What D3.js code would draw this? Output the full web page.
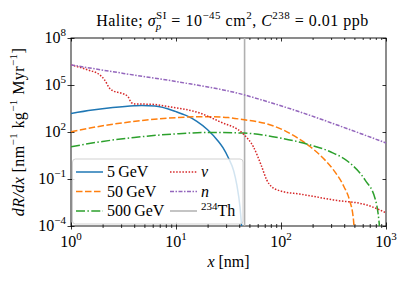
<!DOCTYPE html>
<html>
<head>
<script src="https://cdnjs.cloudflare.com/ajax/libs/d3/7.8.5/d3.min.js"></script>
<style>
    body { margin: 0; background: #fff; }
    svg text { font-family: "Liberation Serif", "DejaVu Serif", serif; fill: #000; }
    .domain { stroke: #000; stroke-width: 0.9px; }
    .tick line { stroke: #000; stroke-width: 0.8px; }
</style>
</head>
<body>
<svg id="chart"></svg>
<script>
    const width = 407, height = 281;
    const margin = {top: 38, right: 21, bottom: 55, left: 71};

    // 5 GeV
    const x5 = [1, 1.6, 2.5, 4, 4.7, 6.3, 10, 12.6, 15.8, 20, 25, 28, 31.6, 35.5, 38, 40.7, 42.7];
    const y5 = [1.5e3, 2.5e3, 3.6e3, 4.7e3, 4.9e3, 4.6e3, 2.0e3, 1.1e3, 480, 140, 28, 10, 2.2, 0.32, 0.04, 1.6e-3, 3e-5];
    // 50 GeV
    const x50 = [1, 2.24, 5, 10, 20, 31.6, 44.7, 70.8, 105, 141, 190, 251, 316, 398, 447, 490, 501];
    const y50 = [105, 280, 560, 830, 950, 830, 600, 355, 135, 45, 11.5, 2.2, 0.38, 0.032, 0.005, 2.5e-4, 3e-5];
    // 500 GeV
    const x500 = [1, 2, 4, 10, 20, 44.7, 97.7, 190, 295, 457, 631, 794, 841, 881];
    const y500 = [11.5, 25, 45, 76, 93, 85, 42, 14.8, 5.5, 1.0, 0.087, 4.6e-3, 6.3e-4, 3e-5];
    // neutrinos
    const xNu = [1, 1.45, 1.88, 2.09, 2.33, 2.51, 3.02, 3.49, 3.76, 4.04, 5.82, 8.39, 16.9, 26.2, 44.2, 54.5, 65.5, 73.1, 81.5, 105, 151, 315, 655, 1000];
    const yNu = [1.9e6, 9.1e5, 4.4e5, 2.1e5, 6.2e4, 4.2e4, 3e4, 1.8e4, 7.4e3, 6.2e3, 5.9e3, 4.2e3, 1.6e3, 4.5e2, 70, 11.5, 0.62, 0.087, 0.032, 0.0155, 0.011, 4.6e-3, 2.2e-3, 7e-4];
    // neutrons
    const xN = [1, 3.16, 10.4, 45.1, 63.1, 152, 365, 1000];
    const yN = [1.9e6, 5.5e5, 1.6e5, 2.3e4, 1.2e4, 1.9e3, 240, 20];
    // 234Th track length
    const thorium = 45;

    const xTicks = [1, 10, 100, 1000];
    const xTickExp = ["0", "1", "2", "3"];
    const yTicks = [1e-4, 1e-1, 1e2, 1e5, 1e8];
    const yTickExp = ["\u22124", "\u22121", "2", "5", "8"];

    const series = [
        {label: "5\u2009GeV", xs: x5, ys: y5, color: "#1f77b4", dash: null},
        {label: "50\u2009GeV", xs: x50, ys: y50, color: "#ff7f0e", dash: "6.5,2.5"},
        {label: "500\u2009GeV", xs: x500, ys: y500, color: "#2ca02c", dash: "9,2.4,1.5,2.4"},
        {label: "\u03bd", xs: xNu, ys: yNu, color: "#d62728", dash: "1.5,1.6", italic: true},
        {label: "n", xs: xN, ys: yN, color: "#9467bd", dash: "4,1.5,1.5,1.5", italic: true}
    ];

    const svg = d3.select("#chart").attr("width", width).attr("height", height);

    const x = d3.scaleLog().domain([1, 1000]).range([margin.left, width - margin.right]);
    const y = d3.scaleLog().domain([1e-4, 1e8]).range([height - margin.bottom, margin.top]);

    svg.append("clipPath").attr("id", "clip")
        .append("rect")
        .attr("x", margin.left).attr("y", margin.top)
        .attr("width", width - margin.left - margin.right)
        .attr("height", height - margin.top - margin.bottom);

    // minor x ticks
    const minor = [];
    for (let d = 1; d < 1000; d *= 10)
        for (let k = 2; k < 10; k++) minor.push(d * k);

    const X0 = margin.left, X1 = width - margin.right;
    const Y0 = height - margin.bottom, Y1 = margin.top;
    const FS = "16px", SS = "11px";

    function addAxis(axis, tx, ty) {
        svg.append("g").attr("transform", `translate(${tx},${ty})`).call(axis);
    }
    // bottom: in-out ticks
    addAxis(d3.axisBottom(x).tickValues(xTicks).tickSize(3.5).tickFormat(""), 0, Y0);
    addAxis(d3.axisBottom(x).tickValues(xTicks).tickSize(-3.5).tickFormat(""), 0, Y0);
    addAxis(d3.axisBottom(x).tickValues(minor).tickSize(2).tickFormat(""), 0, Y0);
    addAxis(d3.axisBottom(x).tickValues(minor).tickSize(-2).tickFormat(""), 0, Y0);
    // top: inward
    addAxis(d3.axisTop(x).tickValues(xTicks).tickSize(-3.5).tickFormat(""), 0, Y1);
    addAxis(d3.axisTop(x).tickValues(minor).tickSize(-2).tickFormat(""), 0, Y1);
    // left: in-out
    addAxis(d3.axisLeft(y).tickValues(yTicks).tickSize(3.5).tickFormat(""), X0, 0);
    addAxis(d3.axisLeft(y).tickValues(yTicks).tickSize(-3.5).tickFormat(""), X0, 0);
    // right: inward
    addAxis(d3.axisRight(y).tickValues(yTicks).tickSize(-3.5).tickFormat(""), X1, 0);
    svg.selectAll(".domain").attr("d", null);
    svg.append("rect")
        .attr("x", X0).attr("y", Y1).attr("width", X1 - X0).attr("height", Y0 - Y1)
        .attr("fill", "none").attr("stroke", "#000").attr("stroke-width", 0.9);

    // tick labels
    xTicks.forEach((v, i) => {
        const t = svg.append("text").attr("x", x(v)).attr("y", Y0 + 21)
            .attr("text-anchor", "middle").style("font-size", FS);
        t.append("tspan").text("10");
        t.append("tspan").attr("dy", -7).style("font-size", SS).text(xTickExp[i]);
    });
    yTicks.forEach((v, i) => {
        const t = svg.append("text").attr("x", X0 - 5).attr("y", y(v) + 5)
            .attr("text-anchor", "end").style("font-size", FS);
        t.append("tspan").text("10");
        t.append("tspan").attr("dy", -7).style("font-size", SS).text(yTickExp[i]);
    });

    // curves
    const plot = svg.append("g").attr("clip-path", "url(#clip)");
    const line = d3.line().x(d => x(d[0])).y(d => y(d[1])).curve(d3.curveMonotoneX);

    plot.append("line")
        .attr("x1", x(thorium)).attr("x2", x(thorium))
        .attr("y1", Y1).attr("y2", Y0)
        .attr("stroke", "#b0b0b0").attr("stroke-width", 1.6);

    series.forEach(s => {
        plot.append("path")
            .datum(d3.zip(s.xs, s.ys))
            .attr("d", line)
            .attr("fill", "none")
            .attr("stroke", s.color)
            .attr("stroke-width", 1.5)
            .attr("stroke-dasharray", s.dash);
    });

    // legend
    const lg = svg.append("g");
    lg.append("rect")
        .attr("x", 72.5).attr("y", 159).attr("width", 170.5).attr("height", 65)
        .attr("rx", 3).attr("fill", "#fff").attr("fill-opacity", 0.8)
        .attr("stroke", "#ccc").attr("stroke-width", 0.9);

    const legendItems = series.concat([{label: "234", color: "#b0b0b0", dash: null, th: true}]);
    legendItems.forEach((s, i) => {
        const col = Math.floor(i / 3), row = i % 3;
        const lx = col === 0 ? 76 : 170;
        const ly = 172 + row * 19.5;
        lg.append("line")
            .attr("x1", lx).attr("x2", lx + 27).attr("y1", ly).attr("y2", ly)
            .attr("stroke", s.color).attr("stroke-width", 1.5)
            .attr("stroke-dasharray", s.dash);
        const t = lg.append("text").attr("x", lx + 31).attr("y", ly + 5)
            .style("font-size", FS);
        if (s.th) {
            t.append("tspan").attr("dy", -6).style("font-size", SS).text("234");
            t.append("tspan").attr("dy", 6).text("Th");
        } else {
            t.text(s.label).style("font-style", s.italic ? "italic" : null);
        }
    });

    // title
    const title = svg.append("text").attr("x", (X0 + X1) / 2 + 4).attr("y", 26)
        .attr("text-anchor", "middle").style("font-size", FS).style("letter-spacing", "0.5px");
    title.append("tspan").text("Halite; ");
    title.append("tspan").style("font-style", "italic").text("\u03c3");
    title.append("tspan").attr("dy", -7).style("font-size", SS).text("SI");
    title.append("tspan").attr("dx", -11).attr("dy", 11).style("font-size", SS).style("font-style", "italic").text("p");
    title.append("tspan").attr("dx", 5).attr("dy", -4).text(" = 10");
    title.append("tspan").attr("dy", -7).style("font-size", SS).text("\u221245");
    title.append("tspan").attr("dy", 7).text(" cm");
    title.append("tspan").attr("dy", -7).style("font-size", SS).text("2");
    title.append("tspan").attr("dy", 7).text(", ");
    title.append("tspan").style("font-style", "italic").text("C");
    title.append("tspan").attr("dy", -7).style("font-size", SS).text("238");
    title.append("tspan").attr("dy", 7).text(" = 0.01 ppb");

    // axis labels
    const xl = svg.append("text").attr("x", (X0 + X1) / 2).attr("y", 267)
        .attr("text-anchor", "middle").style("font-size", FS);
    xl.append("tspan").style("font-style", "italic").text("x");
    xl.append("tspan").text(" [nm]");

    const yl = svg.append("text")
        .attr("transform", `translate(24,${(Y0 + Y1) / 2}) rotate(-90)`)
        .attr("text-anchor", "middle").style("font-size", FS).style("letter-spacing", "0.4px");
    yl.append("tspan").style("font-style", "italic").text("dR/dx");
    yl.append("tspan").text(" [nm");
    yl.append("tspan").attr("dy", -7).style("font-size", SS).text("\u22121");
    yl.append("tspan").attr("dy", 7).text(" kg");
    yl.append("tspan").attr("dy", -7).style("font-size", SS).text("\u22121");
    yl.append("tspan").attr("dy", 7).text(" Myr");
    yl.append("tspan").attr("dy", -7).style("font-size", SS).text("\u22121");
    yl.append("tspan").attr("dy", 7).text("]");
</script>
</body>
</html>
